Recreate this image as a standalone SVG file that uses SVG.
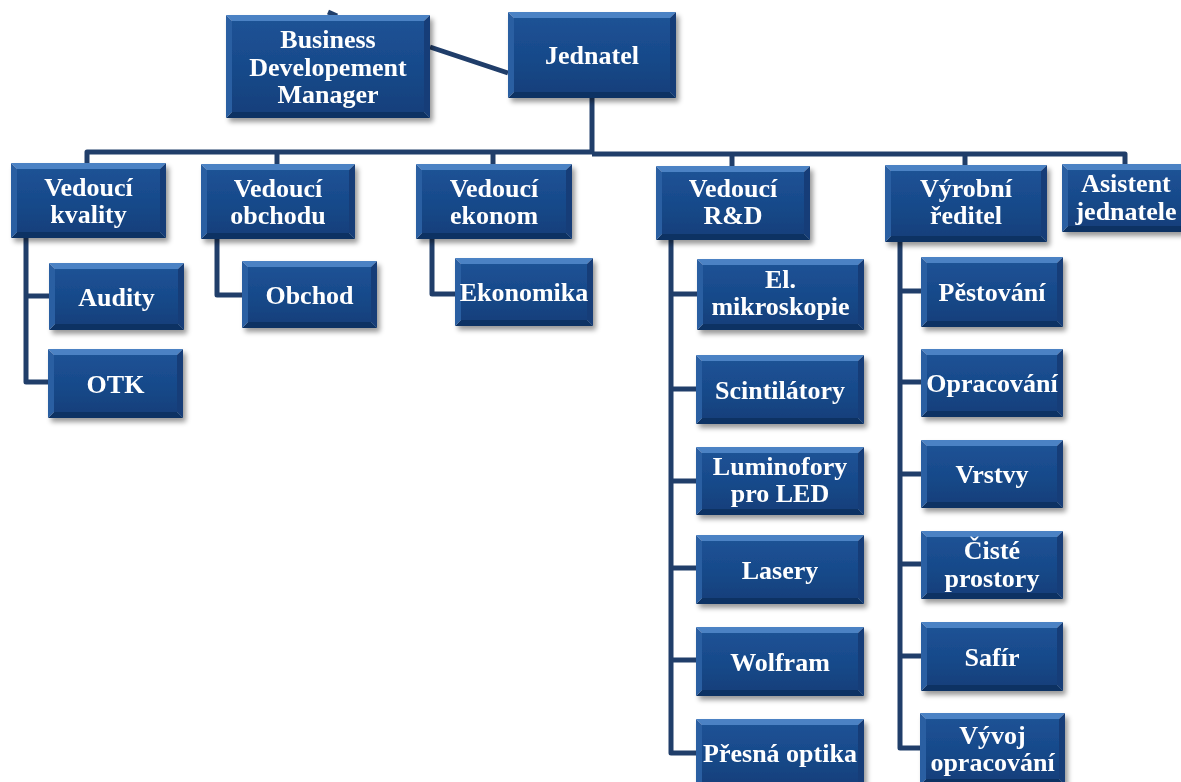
<svg xmlns="http://www.w3.org/2000/svg" width="1181" height="782" viewBox="0 0 1181 782">
<defs>
<linearGradient id="gBody" x1="0" y1="0" x2="0" y2="1">
<stop offset="0" stop-color="#1D5295"/>
<stop offset="0.5" stop-color="#184A8B"/>
<stop offset="1" stop-color="#13407C"/>
</linearGradient>
<filter id="sh" x="-10%" y="-10%" width="125%" height="135%">
<feDropShadow dx="3" dy="4" stdDeviation="2.5" flood-color="#000" flood-opacity="0.4"/>
</filter>
<style>
.t{fill:#4C82C4}.b{fill:#0F3263}.l{fill:#2A5FA2}.r{fill:#133E78}
.in{fill:url(#gBody)}
.node{filter:url(#sh)}
text{font-family:"Liberation Serif","Times New Roman",serif;font-weight:bold;font-size:26px;fill:#fff;text-anchor:middle}
.c{fill:none;stroke:#203E6A;stroke-width:5;stroke-linejoin:round}
</style>
</defs>
<rect width="1181" height="782" fill="#fff"/>
<g id="connectors">
<path class="c" d="M328,12 L337,16"/>
<path class="c" d="M430,47 L508,73"/>
<path class="c" d="M592,98 V154"/>
<path class="c" d="M87,163 V152 H592"/>
<path class="c" d="M592,154 H1125 V164"/>
<path class="c" d="M277,152 V164"/>
<path class="c" d="M493,152 V164"/>
<path class="c" d="M732,154 V166"/>
<path class="c" d="M965,154 V165"/>
<path class="c" d="M26,237 V382 H48 M26,296 H49"/>
<path class="c" d="M217,239 V295 H242"/>
<path class="c" d="M432,239 V294 H455"/>
<path class="c" d="M671,240 V753 H696 M671,294 H697 M671,389 H696 M671,481 H696 M671,568 H696 M671,660 H696"/>
<path class="c" d="M900,242 V748 H920 M900,291 H921 M900,382 H921 M900,474 H921 M900,564 H921 M900,656 H921"/>
</g>

<g id="bdm" class="node">
<polygon class="t" points="226,15 430,15 424,21 232,21"/><polygon class="b" points="226,118 430,118 424,112 232,112"/><polygon class="l" points="226,15 232,21 232,112 226,118"/><polygon class="r" points="430,15 424,21 424,112 430,118"/><rect class="in" x="232" y="21" width="192" height="91"/>
<text x="328" y="48">Business</text><text x="328" y="75.5">Developement</text><text x="328" y="103">Manager</text>
</g>
<g id="jednatel" class="node">
<polygon class="t" points="508,12 676,12 670,18 514,18"/><polygon class="b" points="508,98 676,98 670,92 514,92"/><polygon class="l" points="508,12 514,18 514,92 508,98"/><polygon class="r" points="676,12 670,18 670,92 676,98"/><rect class="in" x="514" y="18" width="156" height="74"/>
<text x="592" y="64">Jednatel</text>
</g>
<g id="vedouci-kvality" class="node">
<polygon class="t" points="11,163 166,163 160,169 17,169"/><polygon class="b" points="11,238 166,238 160,232 17,232"/><polygon class="l" points="11,163 17,169 17,232 11,238"/><polygon class="r" points="166,163 160,169 160,232 166,238"/><rect class="in" x="17" y="169" width="143" height="63"/>
<text x="88.5" y="196">Vedoucí</text><text x="88.5" y="223">kvality</text>
</g>
<g id="vedouci-obchodu" class="node">
<polygon class="t" points="201,164 355,164 349,170 207,170"/><polygon class="b" points="201,239 355,239 349,233 207,233"/><polygon class="l" points="201,164 207,170 207,233 201,239"/><polygon class="r" points="355,164 349,170 349,233 355,239"/><rect class="in" x="207" y="170" width="142" height="63"/>
<text x="278" y="197">Vedoucí</text><text x="278" y="224">obchodu</text>
</g>
<g id="vedouci-ekonom" class="node">
<polygon class="t" points="416,164 572,164 566,170 422,170"/><polygon class="b" points="416,239 572,239 566,233 422,233"/><polygon class="l" points="416,164 422,170 422,233 416,239"/><polygon class="r" points="572,164 566,170 566,233 572,239"/><rect class="in" x="422" y="170" width="144" height="63"/>
<text x="494" y="197">Vedoucí</text><text x="494" y="224">ekonom</text>
</g>
<g id="vedouci-rd" class="node">
<polygon class="t" points="656,166 810,166 804,172 662,172"/><polygon class="b" points="656,240 810,240 804,234 662,234"/><polygon class="l" points="656,166 662,172 662,234 656,240"/><polygon class="r" points="810,166 804,172 804,234 810,240"/><rect class="in" x="662" y="172" width="142" height="62"/>
<text x="733" y="197">Vedoucí</text><text x="733" y="224">R&amp;D</text>
</g>
<g id="vyrobni-reditel" class="node">
<polygon class="t" points="885,165 1047,165 1041,171 891,171"/><polygon class="b" points="885,242 1047,242 1041,236 891,236"/><polygon class="l" points="885,165 891,171 891,236 885,242"/><polygon class="r" points="1047,165 1041,171 1041,236 1047,242"/><rect class="in" x="891" y="171" width="150" height="65"/>
<text x="966" y="197">Výrobní</text><text x="966" y="224">ředitel</text>
</g>
<g id="asistent" class="node">
<polygon class="t" points="1062,164 1190,164 1184,170 1068,170"/><polygon class="b" points="1062,232 1190,232 1184,226 1068,226"/><polygon class="l" points="1062,164 1068,170 1068,226 1062,232"/><rect class="in" x="1068" y="170" width="122" height="56"/>
<text x="1126" y="192">Asistent</text><text x="1126" y="219.5">jednatele</text>
</g>
<g id="audity" class="node">
<polygon class="t" points="49,263 184,263 178,269 55,269"/><polygon class="b" points="49,330 184,330 178,324 55,324"/><polygon class="l" points="49,263 55,269 55,324 49,330"/><polygon class="r" points="184,263 178,269 178,324 184,330"/><rect class="in" x="55" y="269" width="123" height="55"/>
<text x="116.5" y="305.5">Audity</text>
</g>
<g id="otk" class="node">
<polygon class="t" points="48,349 183,349 177,355 54,355"/><polygon class="b" points="48,418 183,418 177,412 54,412"/><polygon class="l" points="48,349 54,355 54,412 48,418"/><polygon class="r" points="183,349 177,355 177,412 183,418"/><rect class="in" x="54" y="355" width="123" height="57"/>
<text x="115.5" y="392.5">OTK</text>
</g>
<g id="obchod" class="node">
<polygon class="t" points="242,261 377,261 371,267 248,267"/><polygon class="b" points="242,328 377,328 371,322 248,322"/><polygon class="l" points="242,261 248,267 248,322 242,328"/><polygon class="r" points="377,261 371,267 371,322 377,328"/><rect class="in" x="248" y="267" width="123" height="55"/>
<text x="309.5" y="303.5">Obchod</text>
</g>
<g id="ekonomika" class="node">
<polygon class="t" points="455,258 593,258 587,264 461,264"/><polygon class="b" points="455,326 593,326 587,320 461,320"/><polygon class="l" points="455,258 461,264 461,320 455,326"/><polygon class="r" points="593,258 587,264 587,320 593,326"/><rect class="in" x="461" y="264" width="126" height="56"/>
<text x="524" y="301">Ekonomika</text>
</g>
<g id="el-mikroskopie" class="node">
<polygon class="t" points="697,259 864,259 858,265 703,265"/><polygon class="b" points="697,330 864,330 858,324 703,324"/><polygon class="l" points="697,259 703,265 703,324 697,330"/><polygon class="r" points="864,259 858,265 858,324 864,330"/><rect class="in" x="703" y="265" width="155" height="59"/>
<text x="780.5" y="288">El.</text><text x="780.5" y="315">mikroskopie</text>
</g>
<g id="scintilatory" class="node">
<polygon class="t" points="696,355 864,355 858,361 702,361"/><polygon class="b" points="696,424 864,424 858,418 702,418"/><polygon class="l" points="696,355 702,361 702,418 696,424"/><polygon class="r" points="864,355 858,361 858,418 864,424"/><rect class="in" x="702" y="361" width="156" height="57"/>
<text x="780" y="398.5">Scintilátory</text>
</g>
<g id="luminofory" class="node">
<polygon class="t" points="696,447 864,447 858,453 702,453"/><polygon class="b" points="696,515 864,515 858,509 702,509"/><polygon class="l" points="696,447 702,453 702,509 696,515"/><polygon class="r" points="864,447 858,453 858,509 864,515"/><rect class="in" x="702" y="453" width="156" height="56"/>
<text x="780" y="474.5">Luminofory</text><text x="780" y="502">pro LED</text>
</g>
<g id="lasery" class="node">
<polygon class="t" points="696,535 864,535 858,541 702,541"/><polygon class="b" points="696,604 864,604 858,598 702,598"/><polygon class="l" points="696,535 702,541 702,598 696,604"/><polygon class="r" points="864,535 858,541 858,598 864,604"/><rect class="in" x="702" y="541" width="156" height="57"/>
<text x="780" y="578.5">Lasery</text>
</g>
<g id="wolfram" class="node">
<polygon class="t" points="696,627 864,627 858,633 702,633"/><polygon class="b" points="696,696 864,696 858,690 702,690"/><polygon class="l" points="696,627 702,633 702,690 696,696"/><polygon class="r" points="864,627 858,633 858,690 864,696"/><rect class="in" x="702" y="633" width="156" height="57"/>
<text x="780" y="670.5">Wolfram</text>
</g>
<g id="presna-optika" class="node">
<polygon class="t" points="696,719 864,719 858,725 702,725"/><polygon class="b" points="696,789 864,789 858,783 702,783"/><polygon class="l" points="696,719 702,725 702,783 696,789"/><polygon class="r" points="864,719 858,725 858,783 864,789"/><rect class="in" x="702" y="725" width="156" height="58"/>
<text x="780" y="762">Přesná optika</text>
</g>
<g id="pestovani" class="node">
<polygon class="t" points="921,257 1063,257 1057,263 927,263"/><polygon class="b" points="921,327 1063,327 1057,321 927,321"/><polygon class="l" points="921,257 927,263 927,321 921,327"/><polygon class="r" points="1063,257 1057,263 1057,321 1063,327"/><rect class="in" x="927" y="263" width="130" height="58"/>
<text x="992" y="301">Pěstování</text>
</g>
<g id="opracovani" class="node">
<polygon class="t" points="921,349 1063,349 1057,355 927,355"/><polygon class="b" points="921,417 1063,417 1057,411 927,411"/><polygon class="l" points="921,349 927,355 927,411 921,417"/><polygon class="r" points="1063,349 1057,355 1057,411 1063,417"/><rect class="in" x="927" y="355" width="130" height="56"/>
<text x="992" y="392">Opracování</text>
</g>
<g id="vrstvy" class="node">
<polygon class="t" points="921,440 1063,440 1057,446 927,446"/><polygon class="b" points="921,508 1063,508 1057,502 927,502"/><polygon class="l" points="921,440 927,446 927,502 921,508"/><polygon class="r" points="1063,440 1057,446 1057,502 1063,508"/><rect class="in" x="927" y="446" width="130" height="56"/>
<text x="992" y="483">Vrstvy</text>
</g>
<g id="ciste-prostory" class="node">
<polygon class="t" points="921,531 1063,531 1057,537 927,537"/><polygon class="b" points="921,599 1063,599 1057,593 927,593"/><polygon class="l" points="921,531 927,537 927,593 921,599"/><polygon class="r" points="1063,531 1057,537 1057,593 1063,599"/><rect class="in" x="927" y="537" width="130" height="56"/>
<text x="992" y="559">Čisté</text><text x="992" y="587">prostory</text>
</g>
<g id="safir" class="node">
<polygon class="t" points="921,622 1063,622 1057,628 927,628"/><polygon class="b" points="921,691 1063,691 1057,685 927,685"/><polygon class="l" points="921,622 927,628 927,685 921,691"/><polygon class="r" points="1063,622 1057,628 1057,685 1063,691"/><rect class="in" x="927" y="628" width="130" height="57"/>
<text x="992" y="665.5">Safír</text>
</g>
<g id="vyvoj-opracovani" class="node">
<polygon class="t" points="920,713 1065,713 1059,719 926,719"/><polygon class="b" points="920,785 1065,785 1059,779 926,779"/><polygon class="l" points="920,713 926,719 926,779 920,785"/><polygon class="r" points="1065,713 1059,719 1059,779 1065,785"/><rect class="in" x="926" y="719" width="133" height="60"/>
<text x="992.5" y="744">Vývoj</text><text x="992.5" y="771">opracování</text>
</g>
</svg>
